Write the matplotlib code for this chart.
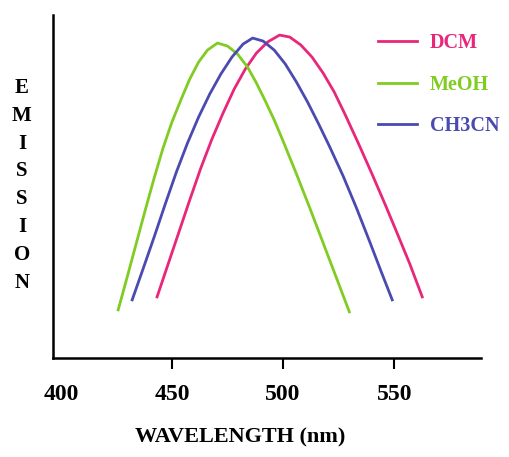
import matplotlib.pyplot as plt

# wavelength (nm) and emission (arbitrary units)
dcm_x = [443.3, 448, 453, 458, 463, 468, 473, 478, 483, 488, 493, 498.4,
         503, 508, 513, 518, 523, 528, 534, 540, 546, 552, 557, 562.6]
dcm_y = [61, 92, 125, 158, 190, 219, 245, 269, 289, 305, 316, 323,
         321, 313, 301, 285, 266, 243, 214, 184, 153, 121, 94, 61]

meoh_x = [425.8, 430, 434, 438, 442, 446, 450, 454, 458, 462, 466, 470.5,
          475, 479.5, 484, 488, 492, 496, 499.8, 506, 512, 518, 524, 529.8]
meoh_y = [48, 82, 115, 148, 180, 210, 236, 258, 279, 296, 308, 315,
          312, 304, 291, 275, 257, 238, 218, 184, 150, 115, 80, 46]

ch3cn_x = [432.1, 437, 442, 447, 452, 457, 462, 467, 472, 477, 482, 486.3,
           491, 496, 501, 506, 511, 516, 521, 527, 533, 539, 544, 549.1]
ch3cn_y = [58, 89, 121, 154, 186, 215, 241, 264, 284, 301, 314, 320,
           317, 308, 294, 276, 256, 234, 211, 182, 150, 116, 87, 58]

tick_vals = [400, 450, 500, 550]

PINK = "#e8277a"
GREEN = "#80cc22"
BLUE = "#4a4ab0"
SERIF = ["Liberation Serif", "DejaVu Serif"]

fig = plt.figure(figsize=(5.10, 4.57), dpi=100)
ax = fig.add_axes([0.104, 0.217, 0.839, 0.750])

ax.plot(dcm_x, dcm_y, color=PINK, linewidth=2.0, label="DCM")
ax.plot(meoh_x, meoh_y, color=GREEN, linewidth=2.0, label="MeOH")
ax.plot(ch3cn_x, ch3cn_y, color=BLUE, linewidth=2.0, label="CH3CN")

ax.set_xlim(396.5, 589)
ax.set_ylim(0, 343)
ax.spines["top"].set_visible(False)
ax.spines["right"].set_visible(False)
ax.spines["left"].set_linewidth(1.8)
ax.spines["bottom"].set_linewidth(1.8)
ax.set_yticks([])
ax.set_xticks(tick_vals)
ax.set_xticklabels(tick_vals, fontfamily=SERIF, fontweight="bold", fontsize=17)
ax.tick_params(axis="x", length=8, width=1.5, pad=11)
ax.get_xticklines()[0].set_visible(False)
ax.get_xticklines()[1].set_visible(False)

ax.set_xlabel("WAVELENGTH (nm)", fontfamily=SERIF, fontweight="bold", fontsize=16,
              labelpad=16, x=0.437)

# vertical stacked y label
for i, ch in enumerate("EMISSION"):
    fig.text(22 / 510, 1 - (88 + i * 27.8) / 457, ch, ha="center", va="center",
             fontfamily=SERIF, fontweight="bold", fontsize=15)

leg = ax.legend(loc="upper left", bbox_to_anchor=(0.716, 1.0), frameon=False,
                handlelength=1.94, handletextpad=0.65, labelspacing=1.07,
                prop={"family": SERIF, "weight": "bold", "size": 14.5})
for txt, col in zip(leg.get_texts(), [PINK, GREEN, BLUE]):
    txt.set_color(col)

fig.savefig("out.png", dpi=100)
